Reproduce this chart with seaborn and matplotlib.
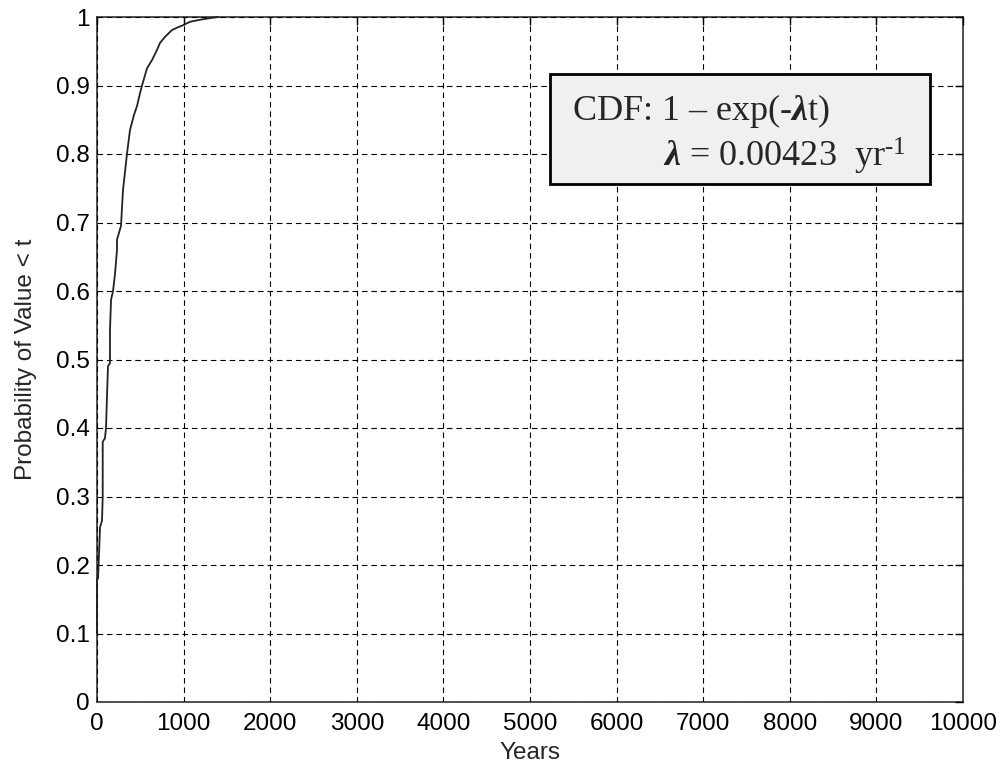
import matplotlib
matplotlib.use("Agg")
import matplotlib.pyplot as plt
import seaborn as sns
import pandas as pd
from matplotlib.patches import Rectangle

years = [0, 0, 12, 35, 58, 66, 66, 92, 104, 115, 127, 150, 150, 162, 185, 208,
         231, 231, 277, 300, 346, 381, 427, 462, 497, 520, 577, 635, 693, 727,
         785, 866, 935, 993, 1074, 1189, 1340, 1400]
prob = [0.10, 0.18, 0.18, 0.255, 0.265, 0.30, 0.38, 0.385, 0.40, 0.445, 0.49,
        0.495, 0.543, 0.587, 0.60, 0.625, 0.66, 0.675, 0.695, 0.747, 0.80,
        0.835, 0.857, 0.87, 0.889, 0.90, 0.925, 0.937, 0.952, 0.962, 0.971,
        0.981, 0.985, 0.988, 0.993, 0.996, 0.999, 1.0]

x_ticks = [0, 1000, 2000, 3000, 4000, 5000, 6000, 7000, 8000, 9000, 10000]
y_ticks = [0, 0.1, 0.2, 0.3, 0.4, 0.5, 0.6, 0.7, 0.8, 0.9, 1]
y_tick_labels = ["0", "0.1", "0.2", "0.3", "0.4", "0.5", "0.6", "0.7", "0.8", "0.9", "1"]

sns.set_style("white")
plt.rcParams["font.family"] = ["Liberation Sans", "DejaVu Sans"]
plt.rcParams["mathtext.fontset"] = "custom"
plt.rcParams["mathtext.rm"] = "Liberation Serif"
plt.rcParams["mathtext.bf"] = "Liberation Serif:bold:italic"
plt.rcParams["mathtext.it"] = "Liberation Serif:italic"

df = pd.DataFrame({"Years": years, "Prob": prob})

fig = plt.figure(figsize=(10.01, 7.69), dpi=100)
ax = fig.add_axes([97 / 1001, 1 - 702 / 769, 866 / 1001, 685 / 769])

sns.lineplot(data=df, x="Years", y="Prob", sort=False, estimator=None,
             color="#222222", linewidth=1.3, ax=ax, zorder=4)
for ln in ax.lines:
    ln.set_clip_on(False)

ax.set_xlim(0, 10000)
ax.set_ylim(0, 1)
ax.set_xticks(x_ticks)
ax.set_xticklabels([str(v) for v in x_ticks])
ax.set_yticks(y_ticks)
ax.set_yticklabels(y_tick_labels)
ax.tick_params(direction="in", length=6, width=1, labelsize=17.5, colors="black",
               top=True, right=True, pad=5)
ax.tick_params(axis="x", pad=8)
for s in ax.spines.values():
    s.set_color("#333333")
    s.set_linewidth(1.2)
    s.set_visible(True)

ax.grid(True, color="black", linestyle=(0, (5.0, 3.5)), linewidth=0.8)
ax.set_axisbelow(False)

ax.set_xlabel("Years", fontsize=17.5, labelpad=5)
ax.set_ylabel("Probability of Value < t", fontsize=17.5, labelpad=14)

# annotation box
rect = Rectangle((0.523, 0.756), 0.439, 0.161, transform=ax.transAxes,
                 facecolor="#f0f0f0", edgecolor="black", linewidth=2, zorder=5)
ax.add_patch(rect)
ax.text(0.5485, 0.850, r"CDF: 1 – exp(-$\mathbf{\lambda}$t)", transform=ax.transAxes,
        fontsize=26, family="Liberation Serif", ha="left", va="baseline", zorder=6)
ax.text(0.6536, 0.781, r"$\mathbf{\lambda}$ = 0.00423  yr$^{\text{-1}}$", transform=ax.transAxes,
        fontsize=26, family="Liberation Serif", ha="left", va="baseline", zorder=6)

fig.savefig("out.png", dpi=100, facecolor="white")
